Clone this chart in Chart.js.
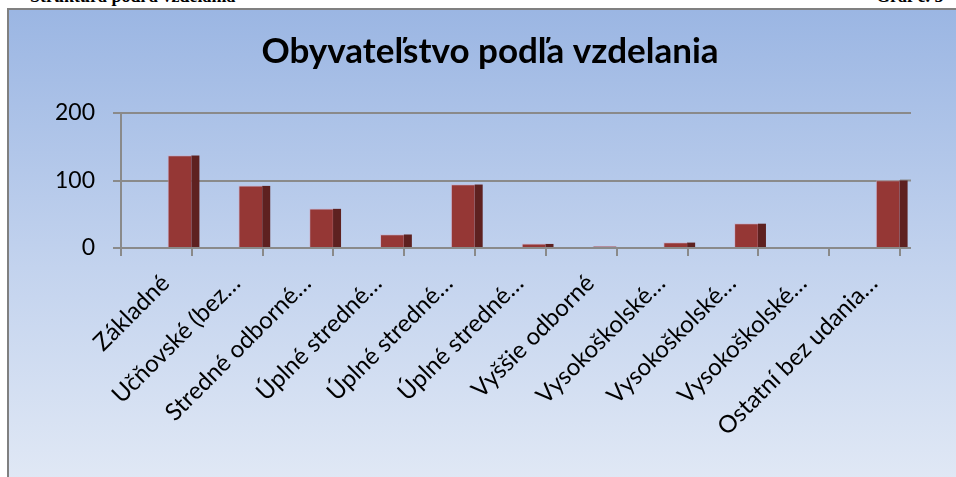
<!DOCTYPE html>
<html>
<head>
<meta charset="utf-8">
<script src="https://cdn.jsdelivr.net/npm/chart.js@4.4.0/dist/chart.umd.min.js"></script>
<style>
  html, body { margin: 0; padding: 0; background: #fff; width: 956px; height: 477px; overflow: hidden; }
  .head { position: absolute; top: -13px; font: bold 18px "Liberation Serif", serif; line-height: 18px; white-space: nowrap; color: #000; }
  #box { position: absolute; left: 7px; top: 8px; width: 949px; height: 469px; border-left: 2px solid #808080; border-top: 2px solid #808080;
         background: linear-gradient(#9bb6e3, #c3d3ee 55%, #e0e8f5); z-index: 1; }
  #wrap { position: absolute; left: 0; top: 0; width: 956px; height: 477px; z-index: 2; }
</style>
</head>
<body>
<div class="head" style="left:30px">Štruktúra podľa vzdelania</div>
<div class="head" style="left:876px">Graf č. 5</div>
<div id="box"></div>
<div id="wrap"><canvas id="barChart" width="956" height="477"></canvas></div>
<script>
const categories = [
  "Základné", "Učňovské (bez…", "Stredné odborné…", "Úplné stredné…", "Úplné stredné…",
  "Úplné stredné…", "Vyššie odborné", "Vysokoškolské…", "Vysokoškolské…", "Vysokoškolské…",
  "Ostatní bez udania…"
];
const values = [137, 92, 58, 20, 94, 6, 2, 8, 36, 0, 100];
const yTicks = [0, 100, 200];

const gridColor = "#8a8a8a";
const frontColor = "#953735";
const sideColor = "#5e2120";
const barShift = 23.5;   // 3D look: front face sits right of category centre
const sideWidth = 8;
const wallDepth = 11;    // back wall gridlines run a bit past the floor

const depthPlugin = {
  id: "depth",
  beforeDatasetsDraw(chart) {
    const { ctx, chartArea, scales } = chart;
    ctx.save();
    ctx.strokeStyle = gridColor;
    ctx.lineWidth = 2;
    yTicks.forEach(v => {
      const y = scales.y.getPixelForValue(v);
      ctx.beginPath();
      ctx.moveTo(chartArea.right, y);
      ctx.lineTo(chartArea.right + wallDepth, y);
      ctx.stroke();
    });
    ctx.restore();
    ctx.save();
    ctx.translate(barShift, 0);
  },
  afterDatasetsDraw(chart) {
    const ctx = chart.ctx;
    chart.getDatasetMeta(0).data.forEach(bar => {
      const h = bar.base - bar.y;
      if (h <= 0.5) return;
      ctx.fillStyle = sideColor;
      ctx.fillRect(bar.x + bar.width / 2 - 0.5, bar.y, sideWidth, h);
    });
    ctx.restore();
  }
};

new Chart(document.getElementById("barChart"), {
  type: "bar",
  data: {
    labels: categories,
    datasets: [{
      data: values,
      backgroundColor: frontColor,
      borderColor: "rgba(205,170,195,0.6)",
      borderWidth: 1,
      barThickness: 24,
      clip: false
    }]
  },
  plugins: [depthPlugin],
  options: {
    responsive: false,
    animation: false,
    layout: { padding: { left: 24, right: 0, top: 0, bottom: 0 } },
    plugins: {
      legend: { display: false },
      tooltip: { enabled: false },
      title: {
        display: true,
        text: "Obyvateľstvo podľa vzdelania",
        color: "#000",
        font: { family: "Lato", size: 35, weight: "bold", lineHeight: 1.2 },
        padding: { top: 31, bottom: 40 }
      }
    },
    scales: {
      x: {
        grid: { offset: true, drawOnChartArea: false, color: gridColor, lineWidth: 2, tickLength: 8 },
        border: { display: true, color: gridColor, width: 2 },
        ticks: {
          autoSkip: false, minRotation: 45, maxRotation: 45, padding: 13, labelOffset: 9,
          color: "#000", font: { family: "Lato", size: 24 }
        },
        afterFit(scale) { scale.height = 229; }
      },
      y: {
        min: 0, max: 200,
        afterBuildTicks(scale) { scale.ticks = yTicks.map(v => ({ value: v })); },
        grid: { color: gridColor, lineWidth: 2, tickLength: 8 },
        border: { display: true, color: gridColor, width: 2 },
        ticks: { padding: 18, color: "#000", font: { family: "Lato", size: 23 } },
        afterFit(scale) { scale.width = 97; }
      },
      // empty right-hand box: keeps the plot narrower than the title band
      yRight: {
        position: "right",
        grid: { display: false },
        border: { display: false },
        ticks: { display: false },
        afterFit(scale) { scale.width = 56; }
      }
    }
  }
});
</script>
</body>
</html>
